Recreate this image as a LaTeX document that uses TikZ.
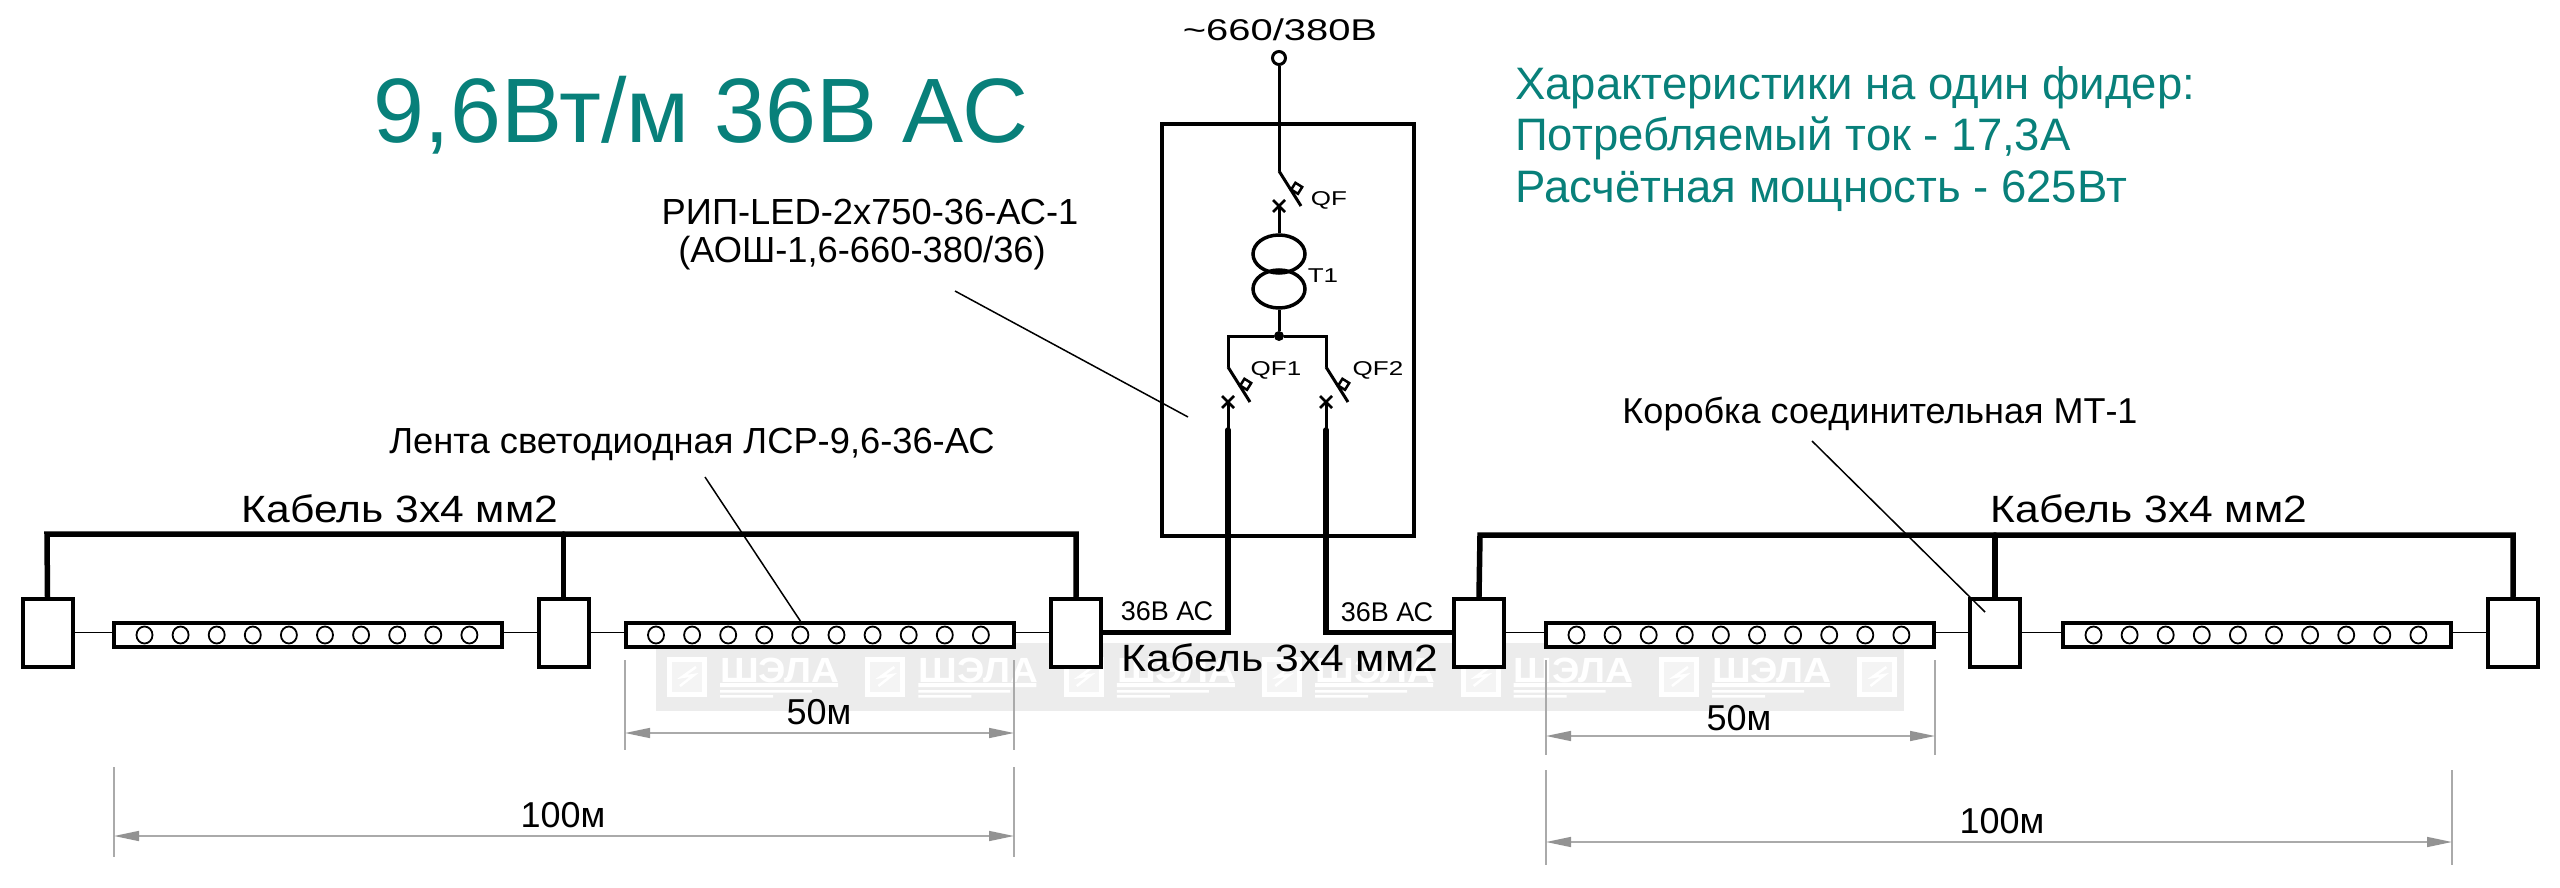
\documentclass[tikz,border=0pt]{standalone}
\usepackage{fontspec}
\setmainfont{Liberation Sans}
\usetikzlibrary{calc,positioning,arrows.meta,shapes.geometric}
\definecolor{tealtxt}{RGB}{8,128,122}
\definecolor{dimgray}{RGB}{170,170,170}
\definecolor{wmgray}{RGB}{236,236,236}
\tikzset{
    jbox/.style={draw,line width=4pt,minimum width=50pt,minimum height=68pt,inner sep=0pt,fill=white},
    strip/.style={draw,line width=4pt,minimum width=388pt,minimum height=24pt,inner sep=0pt,fill=white},
    led/.style={draw,ellipse,line width=1.8pt,minimum width=16pt,minimum height=17pt,inner sep=0pt},
    bus/.style={line width=5.5pt,line cap=round},
    wire/.style={line width=3pt},
    link/.style={line width=1.5pt},
    leader/.style={line width=1.5pt},
    dimext/.style={draw=dimgray,line width=1.2pt},
    dimline/.style={draw=dimgray,line width=1.5pt,{Triangle[length=25pt,width=10pt,color=gray!85]}-{Triangle[length=25pt,width=10pt,color=gray!85]}},
    label/.style={font=\fontsize{36.3}{40}\selectfont,inner sep=0pt},
    small/.style={font=\fontsize{20}{24}\selectfont\addfontfeature{FakeStretch=1.3},inner sep=0pt},
    cable/.style={font=\fontsize{38}{44}\selectfont\addfontfeature{FakeStretch=1.12},inner sep=0pt},
    dimlabel/.style={font=\fontsize{36}{40}\selectfont,inner sep=0pt},
    ac/.style={font=\fontsize{27}{32}\selectfont,inner sep=0pt},
    qfx/.style={line width=2.5pt},
    wmlogo/.style={draw=white,line width=5pt,minimum size=35pt,inner sep=0pt,fill=wmgray!60!white},
}
\newcommand{\breaker}[3]{%
    \draw[wire] (#1,#2) -- ++(22,35);
    \draw[line width=2.5pt,rotate around={-32:(#1+17.7,#2+17.3)}] (#1+13.7,#2+13.3) rectangle (#1+21.7,#2+21.3);
    \draw[qfx] (#1-6,#2+29) -- (#1+6,#2+41) (#1-6,#2+41) -- (#1+6,#2+29);
    \coordinate (#3) at (#1,#2+35);
}
\begin{document}
\begin{tikzpicture}[x=1pt,y=-1pt]
    \useasboundingbox (0,0) rectangle (2560,888);
    % watermark
    \fill[wmgray] (656,643) rectangle (1904,711);
    \foreach \x in {0,...,6}{
        \node[wmlogo] (logo\x) at (687+198.4*\x,677) {};
        \draw[white,line width=2.5pt] (680+198.4*\x,686) -- (694+198.4*\x,675) -- (682+198.4*\x,677) -- (696+198.4*\x,667);
    }
    \foreach \x in {0,...,5}{
        \node[text=white,font=\bfseries\fontsize{35}{40}\selectfont\addfontfeature{FakeStretch=1.1},inner sep=0pt,anchor=base west] (wm\x) at (720+198.4*\x,682) {ШЭЛА};
        \fill[white] (720+198.4*\x,683) rectangle ++(118,4) (720+198.4*\x,690) rectangle ++(92,2.5) (720+198.4*\x,695) rectangle ++(53,2.5);
    }
    % texts
    \node[text=tealtxt,font=\fontsize{91.5}{100}\selectfont,inner sep=0pt] (title) at (701,115) {9,6Вт/м 36В АС};
    \node[text=tealtxt,font=\fontsize{45.5}{51.5}\selectfont,inner sep=0pt,anchor=west,align=left] (spec) at (1515,139)
        {Характеристики на один фидер:\\Потребляемый ток - 17,3А\\Расчётная мощность - 625Вт};
    \node[font=\fontsize{30}{36}\selectfont\addfontfeature{FakeStretch=1.33},inner sep=0pt] (feed) at (1280,30) {\textasciitilde660/380В};
    \node[label] (rip1) at (870,212) {РИП-LED-2х750-36-АС-1};
    \node[label] (rip2) at (862,253) {(АОШ-1,6-660-380/36)};
    \node[label] (tape) at (692,444) {Лента светодиодная ЛСР-9,6-36-АС};
    \node[label,font=\fontsize{36}{40}\selectfont] (jlabel) at (1880,414) {Коробка соединительная МТ-1};
    \node[cable] (cab1) at (400,509) {Кабель 3х4 мм2};
    \node[cable] (cab2) at (1280,658) {Кабель 3х4 мм2};
    \node[cable] (cab3) at (2149,509) {Кабель 3х4 мм2};
    \node[ac] (ac1) at (1167,611) {36В АС};
    \node[ac] (ac2) at (1387,612) {36В АС};
    % cabinet
    \node[draw,line width=4pt,minimum width=252pt,minimum height=412pt,inner sep=0pt] (cab) at (1288,330) {};
    % feed and QF
    \node[draw,circle,line width=3pt,minimum size=13pt,inner sep=0pt] (term) at (1279,58) {};
    \coordinate (qfin) at (1279,171);
    \draw[wire] (term) -- (qfin);
    \breaker{1279}{171}{qfout}
    \node[small] (qf) at (1329,200) {QF};
    % T1
    \node[draw,ellipse,line width=3.5pt,minimum width=52pt,minimum height=38pt,inner sep=0pt] (t1a) at (1279,254) {};
    \node[draw,ellipse,line width=3.5pt,minimum width=52pt,minimum height=38pt,inner sep=0pt] (t1b) at (1279,289) {};
    \node[small] (t1) at (1323,276) {T1};
    \draw[wire] (qfout) -- (t1a.north);
    \node[fill,circle,minimum size=10pt,inner sep=0pt] (dot) at (1279,336) {};
    \draw[wire] (t1b.south) -- (dot);
    \coordinate (qf1in) at (1228,367);
    \coordinate (qf2in) at (1326,367);
    \draw[wire] (qf1in) |- (dot) -| (qf2in);
    \breaker{1228}{367}{qf1out}
    \breaker{1326}{367}{qf2out}
    \node[small] (qf1) at (1276,370) {QF1};
    \node[small] (qf2) at (1378,370) {QF2};
    \coordinate (thick1) at (1228,430);
    \coordinate (thick2) at (1326,430);
    \draw[wire] (qf1out) -- (thick1);
    \draw[wire] (qf2out) -- (thick2);
    % junction boxes
    \foreach \n/\x in {1/47.5,2/563.5,3/1076,4/1479,5/1995,6/2513}
        \node[jbox] (jb\n) at (\x,632.5) {};
    % strips
    \foreach \n/\x in {1/308,2/819.5,3/1740,4/2257}{
        \node[strip] (st\n) at (\x,635) {};
        \foreach \i in {0,...,9}
            \node[led] (led\n\i) at (\x-163.5+36.1*\i,635) {};
    }
    \draw[link] (jb1.east) -- (st1.west |- jb1.east) (st1.east |- jb2.west) -- (jb2.west);
    \draw[link] (jb2.east) -- (st2.west |- jb2.east) (st2.east |- jb3.west) -- (jb3.west);
    \draw[link] (jb4.east) -- (st3.west |- jb4.east) (st3.east |- jb5.west) -- (jb5.west);
    \draw[link] (jb5.east) -- (st4.west |- jb5.east) (st4.east |- jb6.west) -- (jb6.west);
    % cables
    \coordinate (busl) at (47,534);
    \coordinate (busr) at (1480,535);
    \draw[bus] (jb1.north) -- (busl) -- (busl -| jb3) -- (jb3.north);
    \draw[bus] (jb2.north) -- (jb2 |- busl);
    \draw[bus] (jb4.north) -- (busr) -- (busr -| jb6) -- (jb6.north);
    \draw[bus] (jb5.north) -- (jb5 |- busr);
    \draw[bus] (thick1) |- (jb3.east);
    \draw[bus] (thick2) |- (jb4.west);
    % leaders
    \draw[leader] (955,291) -- (1188,417);
    \draw[leader] (705,477) -- (801,622);
    \draw[leader] (1812,441) -- (1985,612);
    % dimensions
    \foreach \x in {625,1014}
        \draw[dimext] (\x,660) -- (\x,750);
    \draw[dimline] (625,733) -- (1014,733);
    \node[dimlabel] (d50l) at (819,712) {50м};
    \foreach \x in {114,1014}
        \draw[dimext] (\x,767) -- (\x,857);
    \draw[dimline] (114,836) -- (1014,836);
    \node[dimlabel] (d100l) at (563,815) {100м};
    \foreach \x in {1546,1935}
        \draw[dimext] (\x,660) -- (\x,755);
    \draw[dimline] (1546,736) -- (1935,736);
    \node[dimlabel] (d50r) at (1739,718) {50м};
    \foreach \x in {1546,2452}
        \draw[dimext] (\x,770) -- (\x,865);
    \draw[dimline] (1546,842) -- (2452,842);
    \node[dimlabel] (d100r) at (2002,821) {100м};
\end{tikzpicture}
\end{document}
